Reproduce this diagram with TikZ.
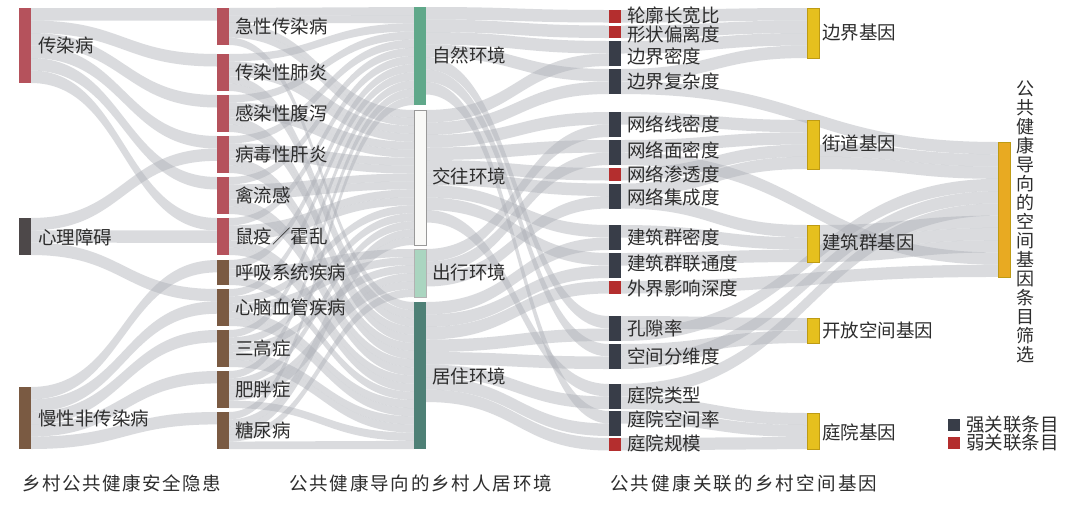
\documentclass[tikz,border=0pt]{standalone}
\usepackage{fontspec}
\setmainfont{Noto Sans CJK SC}
\usetikzlibrary{calc}
\pgfdeclarelayer{bg}
\pgfsetlayers{bg,main}
\definecolor{redc}{RGB}{181,82,92}
\definecolor{psyc}{RGB}{77,72,73}
\definecolor{brownc}{RGB}{122,90,66}
\definecolor{natc}{RGB}{96,168,138}
\definecolor{socc}{RGB}{249,249,247}
\definecolor{travc}{RGB}{170,213,192}
\definecolor{resc}{RGB}{78,128,118}
\definecolor{strongc}{RGB}{56,61,72}
\definecolor{weakc}{RGB}{180,46,46}
\definecolor{genec}{RGB}{230,192,30}
\definecolor{geneb}{RGB}{190,155,20}
\definecolor{finalc}{RGB}{232,170,34}
\definecolor{txt}{RGB}{45,45,45}
\definecolor{flowc}{RGB}{172,175,182}
\tikzset{
  bar/.style={rectangle, inner sep=0pt, outer sep=0pt, minimum width=12pt, anchor=north west},
  lbl/.style={anchor=west, inner sep=0pt, text=txt, font=\fontsize{18.5pt}{20pt}\selectfont},
  flow/.style={fill=flowc, fill opacity=0.44},
}
\newcommand\fband[6]{%
  \path[flow] let \p1=($(#1.north east)+(0,{#2})$), \p2=($(#1.north east)+(0,{#3})$),
    \p3=($(#4.north west)+(0,{#5})$), \p4=($(#4.north west)+(0,{#6})$),
    \p5=($(\p1)!0.5!(\p3)$) in
    (\p1) .. controls (\x5,\y1) and (\x5,\y3) .. (\p3) -- (\p4)
    .. controls (\x5,\y4) and (\x5,\y2) .. (\p2) -- cycle;}
\newcommand\uband[6]{\fband{#1}{(#2)*(#3)}{(#2+1)*(#3)}{#4}{(#5)*(#6)}{(#5+1)*(#6)}}
\begin{document}
\begin{tikzpicture}[x=1pt,y=-1pt]
\useasboundingbox (0,0) rectangle (1080,507);
% ---------- column 1
\node[bar, fill=redc, minimum height=75pt] (a1) at (19,8) {};
\node[bar, fill=psyc, minimum height=37pt] (a2) at (19,218) {};
\node[bar, fill=brownc, minimum height=62pt] (a3) at (19,387) {};
% ---------- column 2
\node[bar, fill=redc, minimum height=37pt] (b1) at (217,8) {};
\node[bar, fill=redc, minimum height=37pt] (b2) at (217,54) {};
\node[bar, fill=redc, minimum height=37pt] (b3) at (217,95) {};
\node[bar, fill=redc, minimum height=37pt] (b4) at (217,136) {};
\node[bar, fill=redc, minimum height=37pt] (b5) at (217,177) {};
\node[bar, fill=redc, minimum height=37pt] (b6) at (217,218) {};
\node[bar, fill=brownc, minimum height=25pt] (b7) at (217,260) {};
\node[bar, fill=brownc, minimum height=37pt] (b8) at (217,289) {};
\node[bar, fill=brownc, minimum height=37pt] (b9) at (217,330) {};
\node[bar, fill=brownc, minimum height=37pt] (b10) at (217,371) {};
\node[bar, fill=brownc, minimum height=37pt] (b11) at (217,412) {};
% ---------- column 3
\node[bar, fill=natc, minimum height=98pt] (n1) at (414,7) {};
\node[bar, fill=socc, draw=gray!80, line width=0.8pt, minimum height=135pt] (n2) at (414,110) {};
\node[bar, fill=travc, draw=gray!60, line width=0.6pt, minimum height=48pt] (n3) at (414,249) {};
\node[bar, fill=resc, minimum height=147pt] (n4) at (414,302) {};
% ---------- column 4
\node[bar, fill=weakc, minimum height=12.5pt] (d1) at (609,10) {};
\node[bar, fill=weakc, minimum height=12.5pt] (d2) at (609,25.5) {};
\node[bar, fill=strongc, minimum height=25pt] (d3) at (609,41) {};
\node[bar, fill=strongc, minimum height=25pt] (d4) at (609,69) {};
\node[bar, fill=strongc, minimum height=25pt] (d5) at (609,112) {};
\node[bar, fill=strongc, minimum height=25pt] (d6) at (609,140) {};
\node[bar, fill=weakc, minimum height=12.5pt] (d7) at (609,168) {};
\node[bar, fill=strongc, minimum height=25pt] (d8) at (609,183.5) {};
\node[bar, fill=strongc, minimum height=25pt] (d9) at (609,225) {};
\node[bar, fill=strongc, minimum height=25pt] (d10) at (609,253) {};
\node[bar, fill=weakc, minimum height=12.5pt] (d11) at (609,281) {};
\node[bar, fill=strongc, minimum height=25pt] (d12) at (609,316) {};
\node[bar, fill=strongc, minimum height=25pt] (d13) at (609,344) {};
\node[bar, fill=strongc, minimum height=25pt] (d14) at (609,384) {};
\node[bar, fill=strongc, minimum height=25pt] (d15) at (609,411) {};
\node[bar, fill=weakc, minimum height=12.5pt] (d16) at (609,438) {};
% ---------- column 5
\node[bar, fill=genec, draw=geneb, line width=0.6pt, minimum height=50pt] (g1) at (807,8) {};
\node[bar, fill=genec, draw=geneb, line width=0.6pt, minimum height=49pt] (g2) at (807,120) {};
\node[bar, fill=genec, draw=geneb, line width=0.6pt, minimum height=37pt] (g3) at (807,225) {};
\node[bar, fill=genec, draw=geneb, line width=0.6pt, minimum height=25pt] (g4) at (807,318) {};
\node[bar, fill=genec, draw=geneb, line width=0.6pt, minimum height=36pt] (g5) at (807,413) {};
% ---------- column 6
\node[bar, fill=finalc, draw=geneb, line width=0.6pt, minimum height=135pt] (gf) at (998,142) {};
% ---------- flows
\begin{pgfonlayer}{bg}
\fill[white] (0,0) rectangle (1080,507);
% col1 -> col2
\uband{a1}{0}{12.5}{b1}{0}{12.5}
\uband{a1}{1}{12.5}{b2}{0}{12.5}
\uband{a1}{2}{12.5}{b3}{0}{12.5}
\uband{a1}{3}{12.5}{b4}{0}{12.5}
\uband{a1}{4}{12.5}{b5}{0}{12.5}
\uband{a1}{5}{12.5}{b6}{0}{12.5}
\fband{a2}{0}{12.33}{b4}{12.5}{24.83}
\fband{a2}{12.33}{24.67}{b6}{12.5}{24.83}
\fband{a2}{24.67}{37}{b8}{0}{12.33}
\fband{a3}{0}{12.4}{b7}{0}{12.4}
\fband{a3}{12.4}{24.8}{b8}{12.33}{24.73}
\fband{a3}{24.8}{37.2}{b9}{0}{12.4}
\fband{a3}{37.2}{49.6}{b10}{0}{12.4}
\fband{a3}{49.6}{62}{b11}{0}{12.4}
% col2 -> col3
\def\wb{7.4}\def\wq{8.333}\def\wn{8.1667}\def\ws{7.941}\def\wt{8}\def\wr{8.1667}
\uband{b1}{0}{\wb}{n1}{0}{\wn}\uband{b1}{1}{\wb}{n1}{1}{\wn}\uband{b1}{2}{\wb}{n2}{0}{\ws}\uband{b1}{3}{\wb}{n2}{1}{\ws}\uband{b1}{4}{\wb}{n4}{0}{\wr}
\uband{b2}{0}{\wb}{n1}{2}{\wn}\uband{b2}{1}{\wb}{n2}{2}{\ws}\uband{b2}{2}{\wb}{n2}{3}{\ws}\uband{b2}{3}{\wb}{n4}{1}{\wr}\uband{b2}{4}{\wb}{n4}{2}{\wr}
\uband{b3}{0}{\wb}{n1}{3}{\wn}\uband{b3}{1}{\wb}{n2}{4}{\ws}\uband{b3}{2}{\wb}{n2}{5}{\ws}\uband{b3}{3}{\wb}{n4}{3}{\wr}\uband{b3}{4}{\wb}{n4}{4}{\wr}
\uband{b4}{0}{\wb}{n1}{4}{\wn}\uband{b4}{1}{\wb}{n2}{6}{\ws}\uband{b4}{2}{\wb}{n2}{7}{\ws}\uband{b4}{3}{\wb}{n4}{5}{\wr}\uband{b4}{4}{\wb}{n4}{6}{\wr}
\uband{b5}{0}{\wb}{n1}{5}{\wn}\uband{b5}{1}{\wb}{n2}{8}{\ws}\uband{b5}{2}{\wb}{n2}{9}{\ws}\uband{b5}{3}{\wb}{n4}{7}{\wr}\uband{b5}{4}{\wb}{n4}{8}{\wr}
\uband{b6}{0}{\wb}{n1}{6}{\wn}\uband{b6}{1}{\wb}{n2}{10}{\ws}\uband{b6}{2}{\wb}{n2}{11}{\ws}\uband{b6}{3}{\wb}{n4}{9}{\wr}\uband{b6}{4}{\wb}{n4}{10}{\wr}
\uband{b7}{0}{\wq}{n1}{7}{\wn}\uband{b7}{1}{\wq}{n3}{0}{\wt}\uband{b7}{2}{\wq}{n4}{11}{\wr}
\uband{b8}{0}{\wb}{n1}{8}{\wn}\uband{b8}{1}{\wb}{n2}{12}{\ws}\uband{b8}{2}{\wb}{n3}{1}{\wt}\uband{b8}{3}{\wb}{n4}{12}{\wr}\uband{b8}{4}{\wb}{n4}{13}{\wr}
\uband{b9}{0}{\wb}{n1}{9}{\wn}\uband{b9}{1}{\wb}{n2}{13}{\ws}\uband{b9}{2}{\wb}{n3}{2}{\wt}\uband{b9}{3}{\wb}{n4}{14}{\wr}\uband{b9}{4}{\wb}{n4}{15}{\wr}
\uband{b10}{0}{\wb}{n1}{10}{\wn}\uband{b10}{1}{\wb}{n2}{14}{\ws}\uband{b10}{2}{\wb}{n3}{3}{\wt}\uband{b10}{3}{\wb}{n3}{4}{\wt}\uband{b10}{4}{\wb}{n4}{16}{\wr}
\uband{b11}{0}{\wb}{n1}{11}{\wn}\uband{b11}{1}{\wb}{n2}{15}{\ws}\uband{b11}{2}{\wb}{n2}{16}{\ws}\uband{b11}{3}{\wb}{n3}{5}{\wt}\uband{b11}{4}{\wb}{n4}{17}{\wr}
% col3 -> col4
\def\wd{12.5}
\uband{n1}{0}{\wd}{d1}{0}{\wd}\uband{n1}{1}{\wd}{d2}{0}{\wd}\uband{n1}{2}{\wd}{d3}{0}{\wd}\uband{n1}{3}{\wd}{d4}{0}{\wd}
\uband{n1}{4}{\wd}{d12}{0}{\wd}\uband{n1}{5}{\wd}{d13}{0}{\wd}\uband{n1}{6}{\wd}{d15}{0}{\wd}
\uband{n2}{0}{\wd}{d3}{1}{\wd}\uband{n2}{1}{\wd}{d4}{1}{\wd}\uband{n2}{2}{\wd}{d5}{0}{\wd}\uband{n2}{3}{\wd}{d6}{0}{\wd}
\uband{n2}{4}{\wd}{d7}{0}{\wd}\uband{n2}{5}{\wd}{d8}{0}{\wd}\uband{n2}{6}{\wd}{d9}{0}{\wd}\uband{n2}{7}{\wd}{d10}{0}{\wd}\uband{n2}{8}{\wd}{d14}{0}{\wd}
\uband{n3}{0}{\wd}{d5}{1}{\wd}\uband{n3}{1}{\wd}{d6}{1}{\wd}\uband{n3}{2}{\wd}{d8}{1}{\wd}
\uband{n4}{0}{\wd}{d9}{1}{\wd}\uband{n4}{1}{\wd}{d10}{1}{\wd}\uband{n4}{2}{\wd}{d11}{0}{\wd}\uband{n4}{3}{\wd}{d12}{1}{\wd}
\uband{n4}{4}{\wd}{d13}{1}{\wd}\uband{n4}{5}{\wd}{d14}{1}{\wd}\uband{n4}{6}{\wd}{d15}{1}{\wd}\uband{n4}{7}{\wd}{d16}{0}{\wd}
% col4 -> col5 / col6
\def\wf{12.27}
\uband{d1}{0}{\wd}{g1}{0}{12.5}
\uband{d2}{0}{\wd}{g1}{1}{12.5}
\uband{d3}{0}{\wd}{g1}{2}{12.5}
\uband{d4}{0}{\wd}{g1}{3}{12.5}
\uband{d4}{1}{\wd}{gf}{0}{\wf}
\uband{d5}{0}{\wd}{g2}{0}{12.25}
\uband{d6}{0}{\wd}{g2}{1}{12.25}
\uband{d6}{1}{\wd}{gf}{9}{\wf}
\uband{d7}{0}{\wd}{g2}{2}{12.25}
\uband{d8}{0}{\wd}{g2}{3}{12.25}
\uband{d8}{1}{\wd}{g3}{0}{12.33}
\uband{d9}{0}{\wd}{g3}{1}{12.33}
\uband{d10}{0}{\wd}{g3}{2}{12.33}
\uband{d11}{0}{\wd}{gf}{10}{\wf}
\uband{d12}{0}{\wd}{g4}{0}{12.5}
\uband{d12}{1}{\wd}{gf}{3}{\wf}
\uband{d13}{0}{\wd}{g4}{1}{12.5}
\uband{d13}{1}{\wd}{gf}{4}{\wf}
\uband{d14}{0}{\wd}{gf}{5}{\wf}
\uband{d14}{1}{\wd}{g5}{0}{12}
\uband{d15}{0}{\wd}{g5}{1}{12}
\uband{d16}{0}{\wd}{g5}{2}{12}
\uband{g2}{2}{12.25}{gf}{1}{\wf}
\uband{g2}{3}{12.25}{gf}{2}{\wf}
\uband{g3}{0}{12.33}{gf}{6}{\wf}
\uband{g3}{1}{12.33}{gf}{7}{\wf}
\uband{g3}{2}{12.33}{gf}{8}{\wf}
\end{pgfonlayer}
% ---------- labels
\node[lbl] (la1) at (38,45) {传染病};
\node[lbl] (la2) at (38,237) {心理障碍};
\node[lbl] (la3) at (38,418) {慢性非传染病};
\node[lbl] (lb1) at (235,26.5) {急性传染病};
\node[lbl] (lb2) at (235,72.5) {传染性肺炎};
\node[lbl] (lb3) at (235,113.5) {感染性腹泻};
\node[lbl] (lb4) at (235,154.5) {病毒性肝炎};
\node[lbl] (lb5) at (235,195.5) {禽流感};
\node[lbl] (lb6) at (235,236.5) {鼠疫／霍乱};
\node[lbl] (lb7) at (235,272.5) {呼吸系统疾病};
\node[lbl] (lb8) at (235,307.5) {心脑血管疾病};
\node[lbl] (lb9) at (235,348.5) {三高症};
\node[lbl] (lb10) at (235,389.5) {肥胖症};
\node[lbl] (lb11) at (235,430.5) {糖尿病};
\node[lbl] (ln1) at (432,55) {自然环境};
\node[lbl] (ln2) at (432,176) {交往环境};
\node[lbl] (ln3) at (432,272) {出行环境};
\node[lbl] (ln4) at (432,376) {居住环境};
\node[lbl] (ld1) at (627,16) {轮廓长宽比};
\node[lbl] (ld2) at (627,34) {形状偏离度};
\node[lbl] (ld3) at (627,56) {边界密度};
\node[lbl] (ld4) at (627,81) {边界复杂度};
\node[lbl] (ld5) at (627,124.5) {网络线密度};
\node[lbl] (ld6) at (627,150) {网络面密度};
\node[lbl] (ld7) at (627,174) {网络渗透度};
\node[lbl] (ld8) at (627,197) {网络集成度};
\node[lbl] (ld9) at (627,237.5) {建筑群密度};
\node[lbl] (ld10) at (627,263) {建筑群联通度};
\node[lbl] (ld11) at (627,288) {外界影响深度};
\node[lbl] (ld12) at (627,328.5) {孔隙率};
\node[lbl] (ld13) at (627,356) {空间分维度};
\node[lbl] (ld14) at (627,395) {庭院类型};
\node[lbl] (ld15) at (627,419) {庭院空间率};
\node[lbl] (ld16) at (627,443) {庭院规模};
\node[lbl] (lg1) at (822,33) {边界基因};
\node[lbl] (lg2) at (822,143) {街道基因};
\node[lbl] (lg3) at (822,242) {建筑群基因};
\node[lbl] (lg4) at (822,330) {开放空间基因};
\node[lbl] (lg5) at (822,432) {庭院基因};
\node[anchor=center, inner sep=0pt, text=txt, align=center,
  font=\fontsize{18pt}{19pt}\selectfont] (vt) at (1025,222)
  {公\\共\\健\\康\\导\\向\\的\\空\\间\\基\\因\\条\\目\\筛\\选};
% ---------- legend
\node[bar, fill=strongc, minimum height=12pt] (k1) at (948,419) {};
\node[bar, fill=weakc, minimum height=12pt] (k2) at (948,437) {};
\node[lbl] (kt1) at (966,425) {强关联条目};
\node[lbl] (kt2) at (966,443) {弱关联条目};
% ---------- column titles
\node[lbl, font=\fontsize{18.5pt}{20pt}\selectfont\addfontfeatures{LetterSpace=8}] (t1) at (22,483) {乡村公共健康安全隐患};
\node[lbl, font=\fontsize{18.5pt}{20pt}\selectfont\addfontfeatures{LetterSpace=10}] (t2) at (289,483) {公共健康导向的乡村人居环境};
\node[lbl, font=\fontsize{18.5pt}{20pt}\selectfont\addfontfeatures{LetterSpace=12}] (t3) at (610,483) {公共健康关联的乡村空间基因};
\end{tikzpicture}
\end{document}
